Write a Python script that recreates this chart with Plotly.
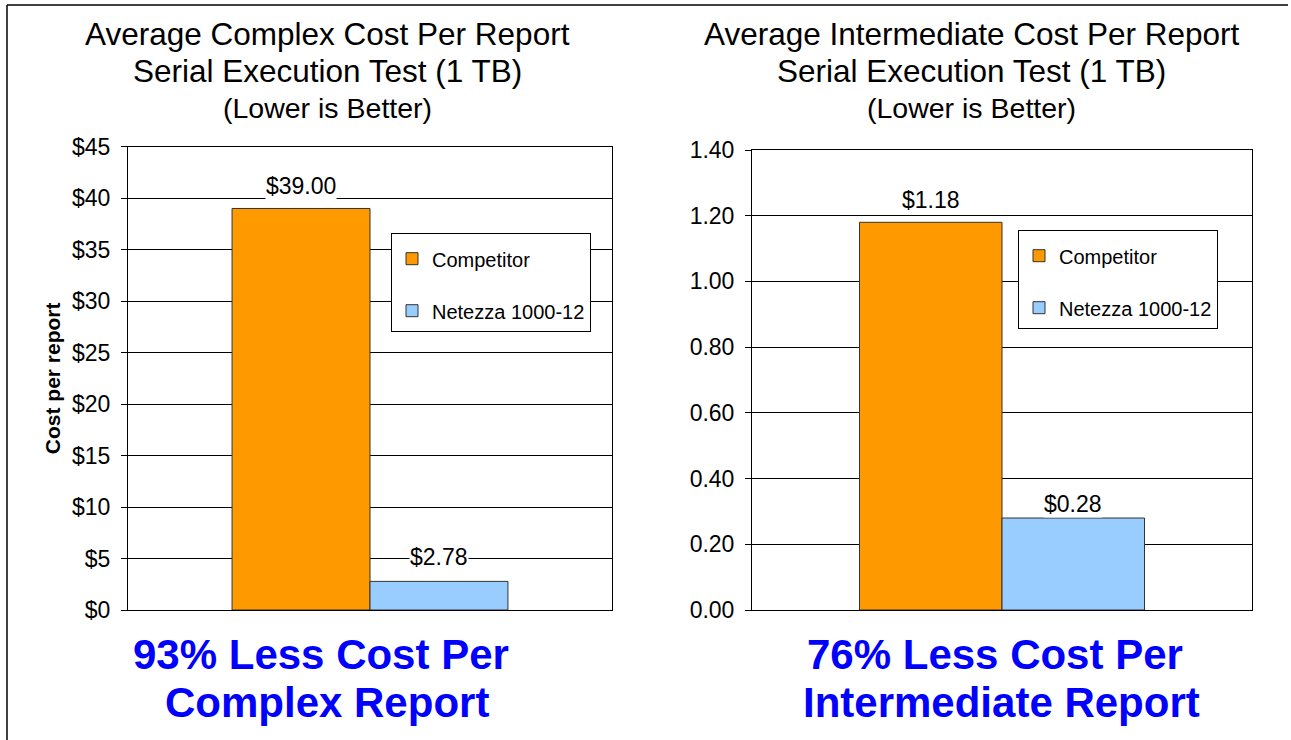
import plotly.graph_objects as go

# ---------------- data ----------------
series_names = ["Competitor", "Netezza 1000-12"]
series_colors = ["#FF9900", "#99CCFF"]
complex_values = [39.00, 2.78]
intermediate_values = [1.18, 0.28]
complex_labels = ["$39.00", "$2.78"]
intermediate_labels = ["$1.18", "$0.28"]
complex_ticks = [0, 5, 10, 15, 20, 25, 30, 35, 40, 45]
complex_ticktext = ["$0", "$5", "$10", "$15", "$20", "$25", "$30", "$35", "$40", "$45"]
intermediate_ticks = [0, 0.2, 0.4, 0.6, 0.8, 1.0, 1.2, 1.4]
left_title = ["Average Complex Cost Per Report", "Serial Execution Test (1 TB)", "(Lower is Better)"]
right_title = ["Average Intermediate Cost Per Report", "Serial Execution Test (1 TB)", "(Lower is Better)"]
left_claim = ["93% Less Cost Per", "Complex Report"]
right_claim = ["76% Less Cost Per", "Intermediate Report"]
y_title = "Cost per report"

W, H = 1291, 740
FONT = "Arial, Liberation Sans, sans-serif"
BARGAP = 0.43

fig = go.Figure()

for i, name in enumerate(series_names):
    fig.add_trace(go.Bar(
        x=[""], y=[complex_values[i]], name=name,
        marker=dict(color=series_colors[i], line=dict(color="#333333", width=1)),
        xaxis="x", yaxis="y", legend="legend", legendgroup="a%d" % i,
        hoverinfo="y",
    ))
for i, name in enumerate(series_names):
    fig.add_trace(go.Bar(
        x=[""], y=[intermediate_values[i]], name=name,
        marker=dict(color=series_colors[i], line=dict(color="#333333", width=1)),
        xaxis="x2", yaxis="y2", legend="legend2", legendgroup="b%d" % i,
        hoverinfo="y",
    ))

def px_x(v):
    return v / W

def px_y(v):
    return 1 - v / H

annotations = []
# value labels above bars
half = (1 - BARGAP) / 2
offsets = [-half / 2, half / 2]
left_shift = [8, 10]
right_shift = [8, 0]
for i in range(2):
    annotations.append(dict(
        x=offsets[i], y=complex_values[i], xref="x", yref="y",
        text=complex_labels[i], showarrow=False, yanchor="bottom", yshift=left_shift[i],
        bgcolor="white", borderpad=0,
        font=dict(family=FONT, size=23, color="black")))
    annotations.append(dict(
        x=offsets[i], y=intermediate_values[i], xref="x2", yref="y2",
        text=intermediate_labels[i], showarrow=False, yanchor="bottom", yshift=right_shift[i],
        bgcolor="white", borderpad=0,
        font=dict(family=FONT, size=23, color="black")))

# titles
title_y = [33.5, 71.5, 108]
title_sizes = [31.5, 31.5, 28.5]
for cx, lines in ((327, left_title), (972, right_title)):
    for j, line in enumerate(lines):
        annotations.append(dict(
            x=px_x(cx), y=px_y(title_y[j]), xref="paper", yref="paper",
            text=line, showarrow=False, xanchor="center", yanchor="middle",
            font=dict(family=FONT, size=title_sizes[j], color="black")))

# bottom claims (one annotation per line)
claim_y = [654, 702]
for centers, lines in (((321, 327), left_claim), ((995, 1001), right_claim)):
    for j, line in enumerate(lines):
        annotations.append(dict(
            x=px_x(centers[j]), y=px_y(claim_y[j]), xref="paper", yref="paper",
            text="<b>%s</b>" % line, showarrow=False, xanchor="center", yanchor="middle",
            font=dict(family=FONT, size=42, color="#0000FF")))

shapes = [
    dict(type="line", xref="paper", yref="paper", x0=px_x(7), x1=px_x(1288),
         y0=px_y(5), y1=px_y(5), line=dict(color="black", width=1.5)),
    dict(type="line", xref="paper", yref="paper", x0=px_x(7), x1=px_x(7),
         y0=px_y(5), y1=px_y(740), line=dict(color="black", width=1.5)),
]

axis_common = dict(showline=True, linecolor="black", linewidth=1, mirror=True,
                   automargin=False,
                   tickfont=dict(family=FONT, size=23, color="black"))

legend_common = dict(xanchor="left", yanchor="top",
                     bgcolor="white", bordercolor="black", borderwidth=1,
                     font=dict(family=FONT, size=20, color="black"),
                     title=dict(text=" ", font=dict(size=4)),
                     traceorder="grouped", tracegroupgap=23, itemwidth=30)

fig.update_layout(
    width=W, height=H,
    margin=dict(l=0, r=0, t=0, b=0, pad=0, autoexpand=False),
    paper_bgcolor="white", plot_bgcolor="white",
    barmode="group", bargap=BARGAP, bargroupgap=0,
    showlegend=True,
    font=dict(family=FONT, color="black"),
    xaxis=dict(domain=[px_x(128), px_x(612)], anchor="y", showticklabels=False,
               ticks="", showgrid=False, **axis_common),
    yaxis=dict(domain=[px_y(610), px_y(146.7)], anchor="x", range=[0, 45],
               tickvals=complex_ticks, ticktext=complex_ticktext,
               ticks="outside", ticklen=6, tickcolor="black", ticklabelstandoff=6,
               showgrid=True, gridcolor="black", gridwidth=1, zeroline=False,
               title=dict(text="<b>%s</b>" % y_title, standoff=5,
                          font=dict(family=FONT, size=21, color="black")),
               **axis_common),
    xaxis2=dict(domain=[px_x(752), px_x(1252)], anchor="y2", showticklabels=False,
                ticks="", showgrid=False, **axis_common),
    yaxis2=dict(domain=[px_y(610), px_y(150)], anchor="x2", range=[0, 1.4],
                tickvals=intermediate_ticks, tickformat=".2f",
                ticks="outside", ticklen=6, tickcolor="black", ticklabelstandoff=6,
                showgrid=True, gridcolor="black", gridwidth=1, zeroline=False,
                **axis_common),
    legend=dict(x=px_x(391), y=px_y(233), **legend_common),
    legend2=dict(x=px_x(1018), y=px_y(230), **legend_common),
    annotations=annotations,
    shapes=shapes,
)

fig.write_html("out.html")
